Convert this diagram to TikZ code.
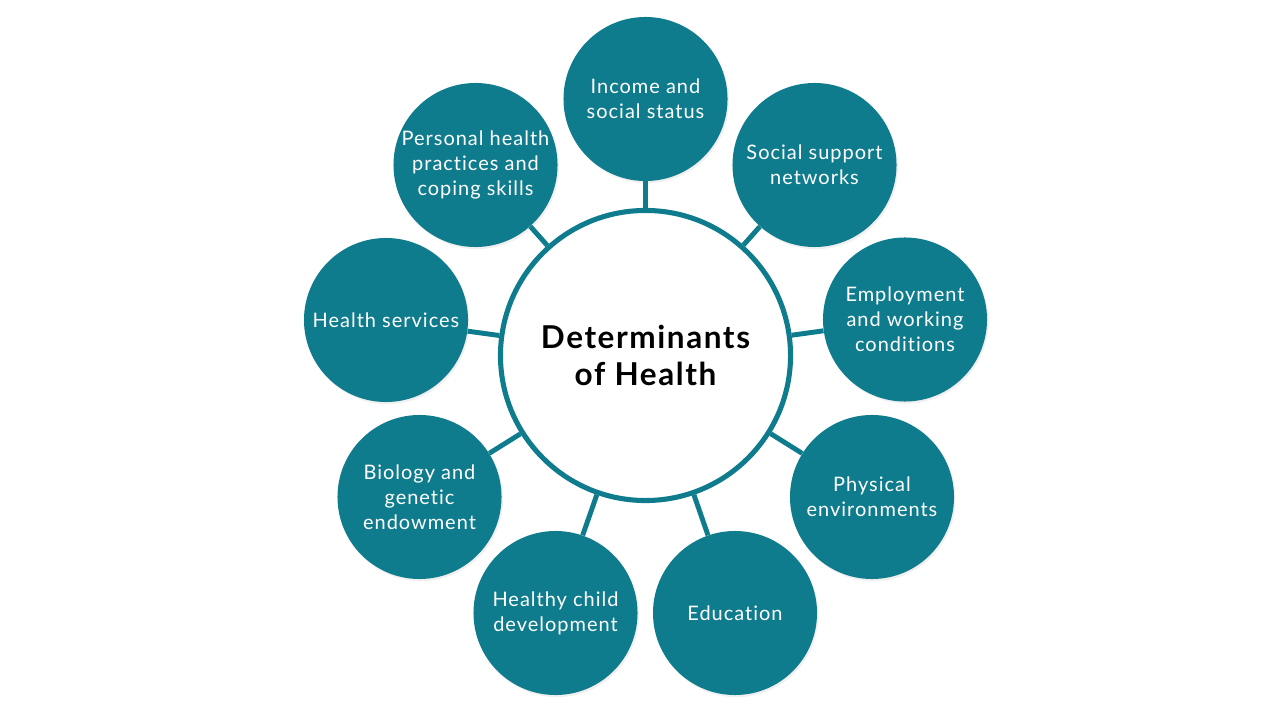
\documentclass[tikz,border=0pt]{standalone}
\usepackage{fontspec}
\setmainfont{Lato}[LetterSpace=5, Ligatures=NoCommon]
\usetikzlibrary{shadows}
\definecolor{healthteal}{RGB}{15,124,141}
\tikzset{
	factor/.style={circle, fill=healthteal, text=white, minimum size=4.1cm, inner sep=0pt, align=center,
		font=\fontsize{14.2}{17.8}\selectfont, drop shadow={shadow xshift=1pt, shadow yshift=-1.5pt, opacity=0.12}},
	hub/.style={circle, draw=healthteal, line width=3.6pt, fill=white, minimum size=7.25cm, inner sep=0pt, align=center,
		font=\bfseries\fontsize{22.4}{26.3}\selectfont, drop shadow={shadow xshift=1pt, shadow yshift=-1.5pt, opacity=0.12}},
	spoke/.style={draw=healthteal, line width=3.5pt}
}

\begin{document}
\begin{tikzpicture}[x=0.025cm, y=-0.025cm]
			%%%%% START %%%%%
			
			\useasboundingbox (0, 0) rectangle (1280, 720);
			
			\node[hub] (det) at (645.5, 355.5) {Determinants\\of Health};
			
			\node[factor] (income) at (645.5, 99) {Income and\\social status};
			\node[factor] (social) at (814.5, 165) {Social support\\networks};
			\node[factor] (employ) at (905, 319.5) {Employment\\and working\\conditions};
			\node[factor] (physical) at (872, 497) {Physical\\environments};
			\node[factor] (educ) at (735, 613) {Education};
			\node[factor] (child) at (555.5, 613) {Healthy child\\development};
			\node[factor] (biology) at (419.5, 497) {Biology and\\genetic\\endowment};
			\node[factor] (services) at (386, 320) {Health services};
			\node[factor] (personal) at (475.5, 165) {Personal health\\practices and\\coping skills};
			
			\foreach \f in {income, social, employ, physical, educ, child, biology, services, personal}
				\draw[spoke] (det) -- (\f);
			
			%%%%% END %%%%%
		\end{tikzpicture}
\end{document}
